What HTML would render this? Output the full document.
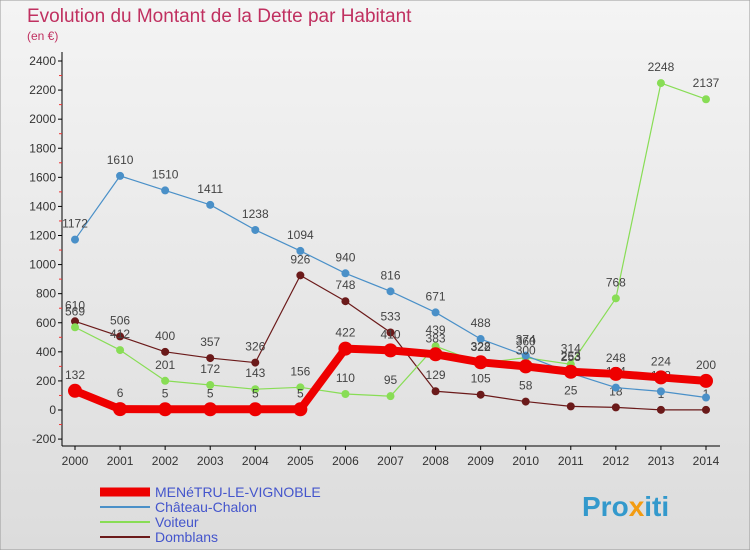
<!DOCTYPE html>
<html><head><meta charset="utf-8"><style>
body{margin:0;background:#fff}
svg text{font-family:"Liberation Sans",sans-serif}
</style></head><body>
<svg width="750" height="550">
<defs><linearGradient id="bg" x1="0" y1="0" x2="0" y2="1"><stop offset="0" stop-color="#f4f4f4"/><stop offset="1" stop-color="#dcdcdc"/></linearGradient></defs>
<rect x="0" y="0" width="750" height="550" fill="url(#bg)" stroke="#999"/>
<text x="27" y="22" font-size="19" fill="#c03060">Evolution du Montant de la Dette par Habitant</text>
<text x="27" y="40" font-size="12" fill="#c03060">(en €)</text>
<g id="axes"></g><g id="series"></g><g id="legend"></g>
<text x="582" y="516" font-size="28" font-weight="bold" fill="#3399cc">Pro<tspan fill="#f39c12">x</tspan>iti</text>
</svg>
<script>
const years=[2000,2001,2002,2003,2004,2005,2006,2007,2008,2009,2010,2011,2012,2013,2014];
const yTicks=[-200,0,200,400,600,800,1000,1200,1400,1600,1800,2000,2200,2400];
const menetru=[132,6,5,5,5,5,422,410,383,328,300,263,248,224,200];
const chateau=[1172,1610,1510,1411,1238,1094,940,816,671,488,374,253,154,128,86];
const voiteur=[569,412,201,172,143,156,110,95,439,322,360,314,768,2248,2137];
const domblans=[610,506,400,357,326,926,748,533,129,105,58,25,18,1,1];
const NS="http://www.w3.org/2000/svg";
const X=i=>75+i*(631/14);
const Y=v=>410-v*(349/2400);
function mk(tag,attrs,parent){const e=document.createElementNS(NS,tag);for(const k in attrs)e.setAttribute(k,attrs[k]);parent.appendChild(e);return e;}
const ax=document.getElementById('axes');
let l=mk('line',{x1:62,y1:52,x2:62,y2:446,stroke:'#000'},ax);


l=mk('line',{x1:62,y1:446,x2:720,y2:446,stroke:'#000'},ax);


yTicks.forEach((v,i)=>{
  const y=Y(v);
  mk('line',{x1:58,y1:y,x2:62,y2:y,stroke:'#000'},ax);
  if(i<yTicks.length-1) mk('line',{x1:59,y1:Y(v+100),x2:62,y2:Y(v+100),stroke:'#e33'},ax);
  const t=mk('text',{x:56,y:y+4,'font-size':12,'text-anchor':'end',fill:'#333'},ax);
  t.textContent=v;
  
  
});
years.forEach((yr,i)=>{
  const x=X(i);
  mk('line',{x1:x,y1:446,x2:x,y2:450,stroke:'#000'},ax);
  const t=mk('text',{x:x,y:465,'font-size':12,'text-anchor':'middle',fill:'#333'},ax);
  t.textContent=yr;
  
  
});
const sg=document.getElementById('series');
function series(data,color,w,r,name){
  const g=mk('g',{},sg);
  
  
  mk('polyline',{points:data.map((v,i)=>X(i)+','+Y(v)).join(' '),fill:'none',stroke:color,'stroke-width':w,'stroke-linejoin':'round'},g);
  data.forEach((v,i)=>{
    const c=mk('circle',{cx:X(i),cy:Y(v),r:r,fill:color},g);
    
    
    const t=mk('text',{x:X(i),y:Y(v)-12,'font-size':12,'text-anchor':'middle',fill:'#444'},g);
    t.textContent=v;
    
    
  });
}
series(domblans,'#6b1a1a',1.2,4,'domblans-series');
series(voiteur,'#88dd55',1.2,4,'voiteur-series');
series(chateau,'#4a90c8',1.2,4,'chateau-chalon-series');
series(menetru,'#ee0000',8,7,'menetru-series');
const lg=document.getElementById('legend');
[['MENéTRU-LE-VIGNOBLE','#ee0000',9],['Château-Chalon','#4a90c8',2],['Voiteur','#88dd55',2],['Domblans','#6b1a1a',2]].forEach((d,i)=>{
  const y=492+i*15;
  const g=mk('g',{},lg);
  
  
  mk('line',{x1:100,y1:y,x2:150,y2:y,stroke:d[1],'stroke-width':d[2]},g);
  const t=mk('text',{x:155,y:y+5,'font-size':14,fill:'#4455cc'},g);
  t.textContent=d[0];
});
</script>
</body></html>
